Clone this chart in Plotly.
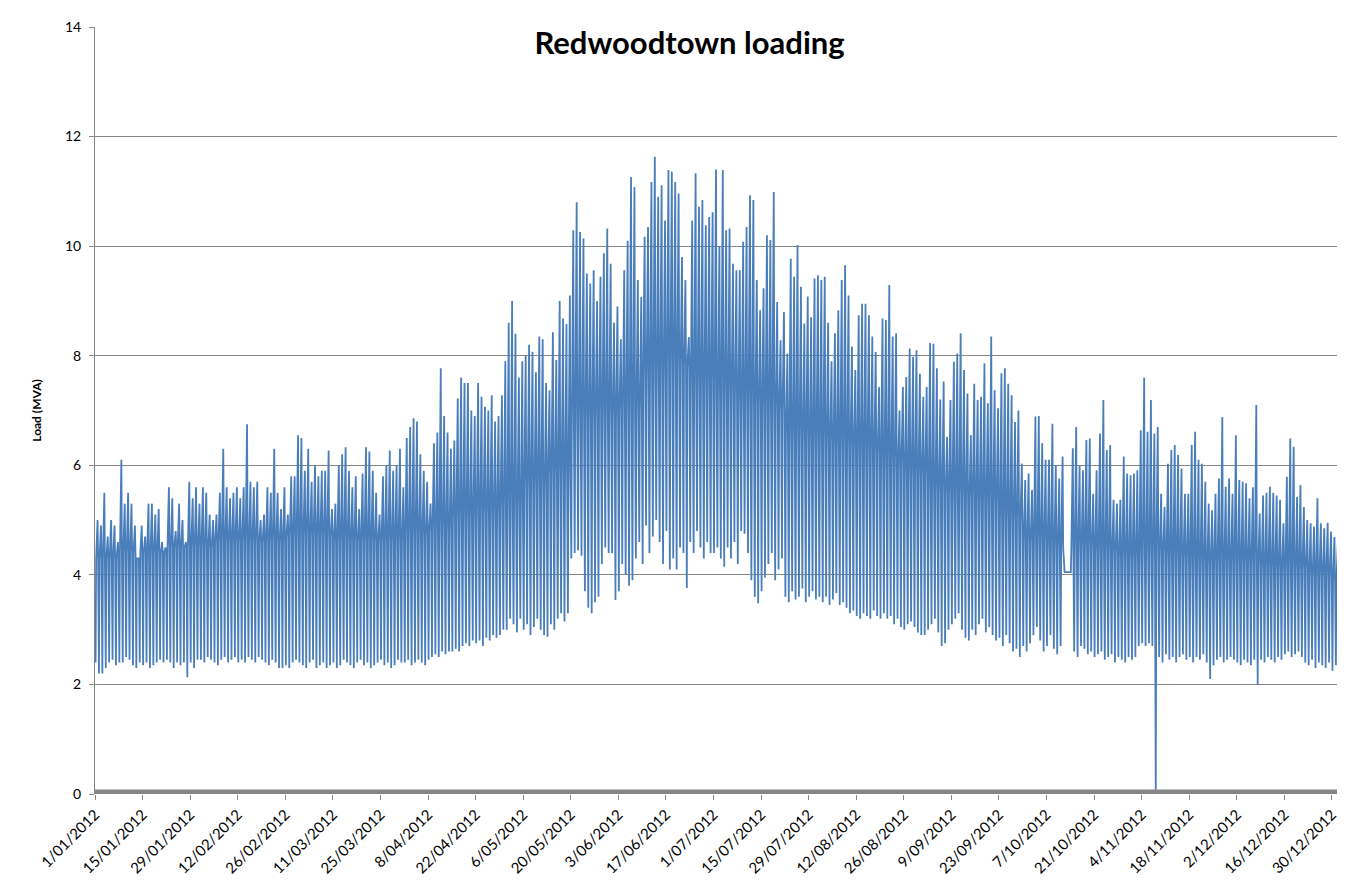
import pandas as pd
import plotly.graph_objects as go

# daily peak load (MVA), 1 Jan 2012 .. 31 Dec 2012
daily_peak = [
    # Jan
    5.0, 4.9, 5.5, 4.7, 5.0, 4.9, 4.6,
    6.1, 5.3, 5.5, 5.3, 4.9, 4.3, 4.9,
    4.7, 5.3, 5.3, 5.1, 5.2, 4.6, 4.5,
    5.6, 5.4, 4.8, 5.3, 5.0, 4.6, 5.7,
    5.4, 5.6, 5.3,
    # Feb
    5.6, 5.5, 5.1, 5.0,
    5.1, 5.5, 6.3, 5.6, 5.4, 5.5, 5.6,
    5.4, 5.6, 6.75, 5.7, 5.6, 5.7, 5.0,
    5.1, 5.6, 5.5, 6.3, 5.5, 5.2, 5.6,
    5.1, 5.8, 5.8, 6.55,
    # Mar
    6.5, 5.9, 6.3,
    5.7, 6.0, 5.8, 5.9, 5.9, 6.27, 5.2,
    5.3, 6.0, 6.2, 6.33, 5.9, 5.6, 5.8,
    5.2, 5.85, 6.33, 6.25, 5.9, 5.5, 5.1,
    5.8, 6.0, 6.27, 5.9, 6.0, 6.3, 5.6,
    # Apr
    6.5, 6.7, 6.86, 6.8, 6.2, 5.9, 5.7,
    5.3, 6.4, 6.6, 7.77, 6.9, 6.6, 6.3,
    6.45, 7.22, 7.6, 7.5, 7.5, 7.0, 6.9,
    7.5, 7.25, 7.07, 7.0, 7.28, 6.8, 6.9,
    7.28, 7.9,
    # May
    8.6, 9.0, 8.4, 7.6, 7.9, 8.0, 8.2,
    8.07, 7.7, 8.35, 8.3, 7.5, 7.37, 8.43,
    7.92, 9.0, 8.68, 8.58, 9.1, 10.29, 10.8,
    10.26, 10.14, 9.5, 9.32, 9.56, 9.0, 9.44,
    9.87, 10.32, 9.68,
    # Jun
    8.6, 8.9, 8.3, 9.56, 10.1, 11.26, 11.08,
    9.38, 9.07, 10.17, 10.35, 11.17, 11.63, 10.9,
    11.11, 10.47, 11.39, 11.36, 11.17, 10.96, 9.8,
    9.38, 8.34, 10.47, 11.33, 10.72, 10.84, 10.38,
    10.53, 10.62,
    # Jul
    11.4, 10.0, 11.39, 10.29, 10.32, 9.68, 9.56,
    9.56, 10.08, 10.35, 10.93, 10.84, 9.38, 8.83,
    9.23, 10.2, 10.11, 10.99, 8.98, 8.28, 8.8,
    8.04, 9.77, 9.44, 10.02, 9.26, 8.59, 9.08,
    8.7, 9.41, 9.47,
    # Aug
    9.38, 9.44, 8.6, 7.9, 8.41, 8.83, 9.38,
    9.65, 9.1, 8.17, 7.74, 8.74, 8.95, 8.95,
    8.74, 8.35, 8.07, 7.43, 8.68, 8.65, 9.29,
    8.35, 8.41, 7.0, 7.43, 7.61, 8.13, 7.98,
    8.1, 7.67, 7.25,
    # Sep
    7.43, 8.23, 8.22, 7.77, 7.2, 7.53, 6.52,
    7.19, 7.89, 8.04, 8.41, 7.74, 7.31, 6.55,
    7.49, 7.19, 7.25, 7.86, 7.13, 8.35, 7.37,
    7.04, 7.68, 7.77, 7.49, 7.28, 6.79, 7.0,
    6.03, 5.73,
    # Oct (13-14 Oct missing, flat in the original)
    5.85, 5.55, 6.89, 6.9, 6.4, 6.1, 6.1,
    6.76, 6.0, 5.76, 6.16, 4.05, 4.05, 6.31,
    6.7, 6.0, 5.91, 6.46, 6.49, 5.48, 5.91,
    6.58, 7.19, 6.28, 6.37, 5.37, 5.3, 5.37,
    6.16, 5.85, 5.82,
    # Nov
    5.85, 5.91, 6.64, 7.6, 6.61, 7.19, 6.58,
    6.7, 5.48, 5.24, 6.03, 6.28, 6.37, 6.19,
    5.94, 5.48, 5.48, 6.37, 6.61, 6.1, 6.03,
    5.7, 5.3, 5.18, 5.48, 5.76, 6.88, 5.61,
    5.76, 5.48,
    # Dec
    6.55, 5.73, 5.7, 5.67, 5.4, 5.6, 7.1,
    5.12, 5.45, 5.5, 5.61, 5.5, 5.45, 5.37,
    4.94, 5.79, 6.49, 6.34, 5.42, 5.64, 5.24,
    5.0, 4.94, 4.88, 5.4, 4.94, 4.85, 4.95,
    4.79, 4.69, 4.57,
]

# daily night-time minimum (MVA)
daily_low = [
    # Jan
    2.4, 2.2, 2.2, 2.3, 2.4, 2.45, 2.35,
    2.4, 2.4, 2.5, 2.45, 2.35, 2.3, 2.4,
    2.35, 2.4, 2.3, 2.35, 2.4, 2.45, 2.4,
    2.45, 2.4, 2.3, 2.4, 2.35, 2.4, 2.13,
    2.4, 2.3, 2.45,
    # Feb
    2.45, 2.4, 2.5, 2.45,
    2.4, 2.35, 2.45, 2.5, 2.4, 2.45, 2.5,
    2.4, 2.45, 2.4, 2.5, 2.45, 2.4, 2.5,
    2.45, 2.4, 2.35, 2.45, 2.4, 2.3, 2.3,
    2.35, 2.3, 2.4, 2.45,
    # Mar
    2.4, 2.35, 2.3,
    2.4, 2.45, 2.3, 2.35, 2.4, 2.3, 2.35,
    2.4, 2.3, 2.35, 2.45, 2.4, 2.35, 2.3,
    2.4, 2.45, 2.35, 2.4, 2.3, 2.35, 2.4,
    2.45, 2.35, 2.4, 2.3, 2.35, 2.45, 2.4,
    # Apr
    2.4, 2.45, 2.35, 2.4, 2.45, 2.4, 2.35,
    2.45, 2.5, 2.55, 2.5, 2.6, 2.55, 2.6,
    2.6, 2.65, 2.6, 2.7, 2.75, 2.7, 2.8,
    2.75, 2.8, 2.7, 2.85, 2.8, 2.9, 2.85,
    2.9, 3.0,
    # May
    3.0, 3.2, 3.1, 2.95, 3.2, 3.0, 3.1,
    2.9, 3.05, 3.2, 3.0, 2.9, 2.87, 3.1,
    3.0, 3.2, 3.3, 3.15, 3.3, 4.3, 4.4,
    4.45, 4.35, 3.7, 3.4, 3.3, 3.5, 3.6,
    4.2, 4.5, 4.4,
    # Jun
    4.4, 3.54, 3.7, 4.2, 4.0, 3.8, 3.9,
    4.3, 4.6, 4.2, 4.9, 4.4, 4.7, 5.0,
    4.6, 4.2, 4.8, 4.1, 4.3, 4.1, 4.5,
    4.4, 3.76, 4.6, 4.4, 4.8, 4.5, 4.3,
    4.6, 4.4,
    # Jul
    4.4, 4.5, 4.3, 4.15, 4.5, 4.3, 4.6,
    4.2, 4.8, 4.75, 4.4, 3.9, 3.6, 3.48,
    3.7, 3.95, 4.2, 4.4, 3.9, 4.1, 4.3,
    3.6, 3.5, 3.7, 3.55, 3.6, 3.75, 3.5,
    3.6, 3.7, 3.55,
    # Aug
    3.6, 3.5, 3.6, 3.45, 3.55, 3.67, 3.45,
    3.5, 3.4, 3.3, 3.35, 3.25, 3.2, 3.3,
    3.25, 3.2, 3.35, 3.25, 3.2, 3.3, 3.2,
    3.25, 3.1, 3.2, 3.05, 3.0, 3.1, 3.15,
    3.05, 2.95, 2.9,
    # Sep
    2.9, 3.0, 3.1, 3.2, 2.95, 2.7, 2.75,
    3.0, 3.1, 3.2, 3.3, 3.0, 2.85, 2.8,
    3.0, 2.9, 3.1, 3.2, 2.95, 3.05, 2.9,
    2.8, 2.85, 2.7, 2.9, 2.75, 2.6, 2.65,
    2.5, 2.7,
    # Oct
    2.6, 2.75, 2.9, 3.05, 2.8, 2.6, 2.7,
    2.9, 2.65, 2.55, 2.7, 4.05, 4.05, 4.05,
    2.6, 2.5, 2.7, 2.65, 2.55, 2.6, 2.5,
    2.55, 2.6, 2.45, 2.5, 2.55, 2.4, 2.5,
    2.45, 2.4, 2.5,
    # Nov (8 Nov outage reading of 0)
    2.45, 2.5, 2.7, 2.75, 2.7, 2.75, 2.7,
    0.0, 2.5, 2.4, 2.55, 2.45, 2.5, 2.4,
    2.5, 2.55, 2.45, 2.5, 2.4, 2.5, 2.45,
    2.55, 2.4, 2.1, 2.35, 2.45, 2.5, 2.4,
    2.45, 2.5,
    # Dec
    2.45, 2.4, 2.35, 2.45, 2.4, 2.35, 2.45,
    2.0, 2.45, 2.4, 2.5, 2.45, 2.4, 2.5,
    2.45, 2.55, 2.6, 2.5, 2.55, 2.6, 2.5,
    2.4, 2.35, 2.45, 2.3, 2.4, 2.35, 2.3,
    2.4, 2.25, 2.35,
]

# typical daytime level for each week of the year
weekly_level = [
    4.3, 4.4, 4.4, 4.5, 4.5,
    4.6, 4.6, 4.6, 4.7,
    4.7, 4.6, 4.6, 4.6, 4.7,
    4.8, 5.0, 5.1, 5.2, 5.6,
    5.8, 6.8, 6.9, 7.0,
    7.6, 7.8, 7.4, 7.3,
    7.1, 7.0, 6.5, 6.4,
    6.3, 6.2, 6.0, 5.8, 5.5,
    5.4, 5.3, 5.0, 4.6,
    4.5, 4.5, 4.4, 4.3,
    4.4, 4.3, 4.2, 4.2, 4.2,
    4.1, 4.1, 4.0, 3.9,
]

sample_hours = [4, 8, 18, 22]  # night low, morning, evening peak, late evening

assert len(daily_peak) == 366 and len(daily_low) == 366

start = pd.Timestamp('2012-01-01')
times, loads = [], []
for d, (lo, hi) in enumerate(zip(daily_low, daily_peak)):
    mid = min(max(weekly_level[d // 7], lo), hi)
    for h, v in zip(sample_hours, (lo, mid, hi, mid)):
        times.append(start + pd.Timedelta(days=d, hours=h))
        loads.append(v)

tick_dates = pd.date_range('2012-01-01', '2012-12-30', freq='14D')

fig = go.Figure()
fig.add_trace(go.Scatter(x=times, y=loads, mode='lines',
                         line=dict(color='#4a7ebb', width=1.8),
                         hoverinfo='x+y'))

fig.update_layout(
    width=1352, height=896,
    margin=dict(l=95, r=15, t=27, b=102),
    plot_bgcolor='white', paper_bgcolor='white',
    showlegend=False,
    font=dict(family='Lato', size=14, color='black'),
    title=dict(text='<b>Redwoodtown loading</b>', x=0.51, xref='container',
               xanchor='center', y=1 - 43 / 896, yref='container',
               yanchor='middle', font=dict(size=31, color='black')),
    shapes=[dict(type='line', xref='paper', x0=0, x1=1, yref='y', y0=0, y1=0,
                 line=dict(color='#868686', width=9), layer='above')],
)

fig.update_xaxes(type='date', range=['2012-01-01', '2012-12-31 12:00'],
                 tickvals=tick_dates, tickformat='%-d/%m/%Y', tickangle=-45,
                 showgrid=False, zeroline=False, showline=False,
                 ticks='outside', ticklen=5, tickcolor='#868686',
                 tickfont=dict(size=15), automargin=False)

fig.update_yaxes(range=[0, 14], dtick=2, showgrid=True, gridcolor='#868686',
                 gridwidth=1, zeroline=False, showline=True,
                 linecolor='#868686', linewidth=1, ticks='outside', ticklen=5,
                 tickcolor='#868686', tickfont=dict(size=14), automargin=False,
                 ticklabelstandoff=5,
                 title=dict(text='<b>Load (MVA)</b>', font=dict(size=12),
                            standoff=20))

# page body has a default 8px margin; drop it so the chart sits at 0,0
fig.write_html('out.html', config={'displayModeBar': False},
               post_script="document.body.style.margin='0';")
